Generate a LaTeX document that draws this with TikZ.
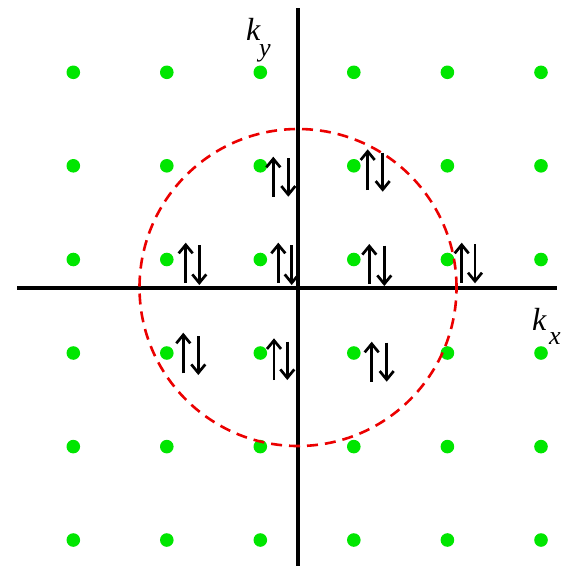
\documentclass[tikz,border=0pt]{standalone}
\usepackage{fontspec}
\setmainfont{Liberation Serif}
\usetikzlibrary{arrows.meta}
\definecolor{dotgreen}{RGB}{0,230,0}
\definecolor{circred}{RGB}{235,0,0}
\tikzset{
  dotnode/.style={circle,fill=dotgreen,draw=none,minimum size=13.6pt,inner sep=0pt},
  axisline/.style={line width=3.2pt,black},
  fermi/.style={line width=2.6pt,circred,dash pattern=on 11pt off 7pt},
  spin/.style={line width=2.7pt,black,-{Straight Barb[length=8.5pt,width=14pt]}},
  lbl/.style={font=\itshape\fontsize{32}{32}\selectfont,inner sep=0pt,anchor=base west},
  sublbl/.style={font=\itshape\fontsize{26}{26}\selectfont,inner sep=0pt,anchor=base west}
}
\begin{document}
\begin{tikzpicture}[x=1pt,y=-1pt]
\useasboundingbox (0,0) rectangle (567,566);
% lattice of green points
\foreach \i/\x in {1/73.3,2/166.8,3/260.3,4/353.8,5/447.4,6/541}{
  \foreach \j/\y in {1/72.3,2/165.8,3/259.5,4/353,5/446.6,6/540}{
    \node[dotnode] (d\i\j) at (\x,\y) {};
  }
}
% axes
\coordinate (xl) at (17,288);
\coordinate (xr) at (557,288);
\coordinate (yt) at (298,8);
\coordinate (yb) at (298,566);
\draw[axisline] (xl) -- (xr);
\draw[axisline] (yt) -- (yb);
% Fermi circle
\coordinate (c0) at (298,287.5);
\draw[fermi] (c0) circle[radius=158.5pt];
% spin pairs: up x, up bottom, up tip, down x, down top, down tip
\foreach \n/\ux/\ub/\ut/\dx/\dt/\db in {
  1/273.3/196.7/156.7/288.3/158/196.7,
  2/367.7/190/149.3/382.7/152.7/191.7,
  3/185.7/282.7/242.7/199.3/245/285,
  4/278.3/283/242.7/291.7/245/285,
  5/369.3/284/244/384.3/245.5/286,
  6/461.7/282.7/242.7/475/244/283.3,
  7/183.3/373.3/332.7/198.3/336/375,
  8/274/380/338.3/287.3/341.7/380,
  9/371.7/381.7/341.7/386.7/342.7/381.7}{
  \coordinate (ua\n) at (\ux,\ub);
  \coordinate (ub\n) at (\ux,\ut);
  \coordinate (da\n) at (\dx,\dt);
  \coordinate (db\n) at (\dx,\db);
  \draw[spin] (ua\n) -- (ub\n);
  \draw[spin] (da\n) -- (db\n);
}
% axis labels
\node[lbl] (ky) at (246,40) {k};
\node[sublbl] (kysub) at (259,56) {y};
\node[lbl] (kx) at (532,330) {k};
\node[sublbl] (kxsub) at (549,344) {x};
\end{tikzpicture}
\end{document}
